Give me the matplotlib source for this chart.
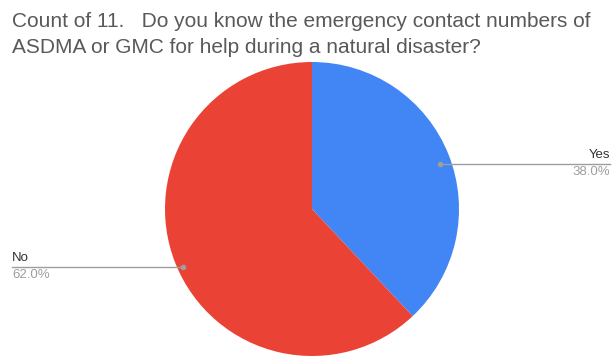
import matplotlib
matplotlib.use("Agg")
import matplotlib.pyplot as plt

categories = ["Yes", "No"]
values = [38.0, 62.0]
colors = ["#4285F4", "#EA4335"]
title_lines = ["Count of 11.   Do you know the emergency contact numbers of",
               "ASDMA or GMC for help during a natural disaster?"]

plt.rcParams['font.family'] = ['Liberation Sans', 'DejaVu Sans']

W, H = 612, 362
fig = plt.figure(figsize=(W/100, H/100), dpi=100)
ax = fig.add_axes([0, 0, 1, 1])

cx, cy, r = 312, H - 209, 147
ax.pie(values, colors=colors, startangle=90, counterclock=False,
       center=(cx, cy), radius=r, frame=True,
       wedgeprops=dict(linewidth=0))
ax.set_xlim(0, W)
ax.set_ylim(0, H)
ax.set_aspect('equal')
ax.axis('off')

# label leader lines
lc = "#9e9e9e"
# Yes (right)
yy = H - 164
ax.plot([440, 610], [yy, yy], color=lc, lw=1)
ax.plot([440], [yy], 'o', color=lc, ms=3)
ax.text(610, yy + 3, f"{categories[0]}", ha='right', va='bottom', fontsize=9.5, color="#333333")
ax.text(610, yy - 2, f"{values[0]:.1f}%", ha='right', va='top', fontsize=9.5, color="#9e9e9e")
# No (left)
yn = H - 267
ax.plot([12, 183], [yn, yn], color=lc, lw=1)
ax.plot([183], [yn], 'o', color=lc, ms=3)
ax.text(12, yn + 3, f"{categories[1]}", ha='left', va='bottom', fontsize=9.5, color="#333333")
ax.text(12, yn - 2, f"{values[1]:.1f}%", ha='left', va='top', fontsize=9.5, color="#9e9e9e")

for i, line in enumerate(title_lines):
    fig.text(12/W, 1 - (27 + 26*i)/H, line, ha='left', va='baseline', fontsize=15,
             color="#595959")

fig.savefig("out.png", dpi=100)
